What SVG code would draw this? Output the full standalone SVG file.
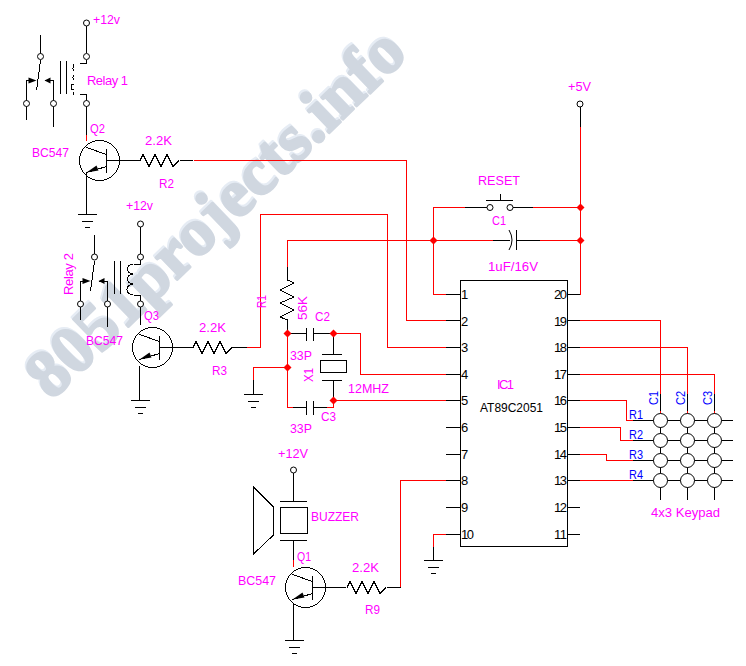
<svg xmlns="http://www.w3.org/2000/svg" width="746" height="666" viewBox="0 0 746 666">
<defs>
<style>
text{font-family:"Liberation Sans",Arial,sans-serif;font-size:13px;fill:#ff00ff}
.k{fill:#000}.b{fill:#0000ff}
.w{fill:none;stroke:#000;stroke-width:1;shape-rendering:crispEdges}
.r{fill:none;stroke:#ff0000;stroke-width:1;shape-rendering:crispEdges}
.o{fill:#fff;stroke:#000;stroke-width:1}
.d{fill:#ff0000;stroke:none}
.a{fill:#000;stroke:none}
.wm{font-family:"Liberation Serif",serif;font-weight:bold;font-size:67px;stroke-width:2.500;stroke-linejoin:round}
</style>
<g id="gnd"><path class="w" d="M-9 0H10M-5 7H6M-2 13H3"/></g>
<g id="term"><circle class="o" cx="0" cy="0" r="3"/></g>
<g id="npn"><circle class="w" cx="0" cy="0" r="20"/><path class="w" d="M7-12V12M7 -6L-13-13M7 6L-13 12"/><path class="a" d="M-13 12L-3 5L-1 10Z"/></g>
<path id="zz" class="w" d="M0 0L3-6L9 6L15-6L21 6L27-6L33 6L39 0"/>
<g id="relay"><path class="w" d="M-60 24V63M-33 24V70M-46-22V-3M-60 44V24H-54M-33 44V24H-42M-46 4L-50 34M-20 4V37M-26 4V37"/><path class="a" d="M-58 21V27L-50 24ZM-42 24L-36 21V27Z"/><path class="w" d="M0 3V7H-7M-7 38H0V44"/><use href="#term" x="0" y="0"/><use href="#term" x="0" y="47"/><use href="#term" x="-46" y="0"/><use href="#term" x="-60" y="47"/><use href="#term" x="-33" y="47"/></g>
</defs>
<rect width="746" height="666" fill="#fff"/>
<g id="watermark"><text class="wm" style="fill:#e6ecf4;stroke:#e6ecf4" transform="translate(50 399) rotate(-44)" textLength="497">8051projects.info</text><text class="wm" style="fill:#d0d7e0;stroke:#d0d7e0" transform="translate(51.500 401) rotate(-44)" textLength="497">8051projects.info</text></g>
<g id="connectors">
<path class="r" d="M193.500 160.500H406.500V320.500H446M247 347.500H260.500V214.500H387.500V347.500H446M446 294.500H433.500V207.500H465M533 207.500H580.500M580.500 127V294.500M433 240.500H493M540 240.500H580M287.500 267V240.500H433M287.500 333.500V407.500H293M327 333.500H360.500V374.500H446M327 407.500H333.500V400.500H446M287 367.500H253.500V380M446 480.500H400.500V587.500M446 534.500H433.500V547M580 320.500H660.500V394M580 347.500H687.500V394M580 374.500H714.500V394M580 400.500H626.500V420.500H633M580 427.500H620.500V440.500H633M580 454.500H606.500V460.500H633M580 480.500H633M86.500 135V141M293.500 560V567M660.500 411V414M687.500 411V414M714.500 411V414"/>
<path class="w" d="M287.500 267V280M287.500 320V333M287.500 333.500H293M327 333.500H333.500M333.500 333V354M333.500 380V400M253.500 380V394M433.500 547V560M400.500 587.500H387M180 160.500H193M106 160.500H140M232 347.500H247M159 347.500H193M312 587.500H346M86.500 106V135M86.500 172V214M140 307V325M139.500 366V400M293.500 473V501M293.500 540V560M293.500 603V640M660.500 394V411M687.500 394V411M714.500 394V411"/>
</g>
<g id="relay1"><path class="w" d="M86.500 26V53"/><use href="#term" x="86.500" y="23"/><use href="#relay" x="86.500" y="56.500"/><path class="w" d="M74 66A2.500 3 0 0 0 74 71M74 75A2.500 3 0 0 0 74 80M74 84A3 3 0 0 0 74 90M73 64V68M73 92V95"/></g>
<g id="relay2"><path class="w" d="M140.500 227V254"/><use href="#term" x="140.500" y="224"/><use href="#relay" x="140.500" y="257"/><path class="w" d="M133 264A5.500 5 0 0 0 133 274A5.500 5 0 0 0 133 284A5.500 5 0 0 0 133 295"/></g>
<g id="q2"><use href="#npn" x="99.500" y="160.500"/><use href="#gnd" x="87" y="214.500"/></g>
<g id="r2"><use href="#zz" x="140" y="160.500"/></g>
<g id="q3"><use href="#npn" x="152.500" y="347.500"/><use href="#gnd" x="140" y="400.500"/></g>
<g id="r3"><use href="#zz" x="193" y="347.500"/></g>
<g id="q1"><use href="#npn" x="305.500" y="587.500"/><use href="#gnd" x="294" y="640.500"/></g>
<g id="r9"><use href="#zz" x="347" y="587.500"/></g>
<g id="r1"><path class="w" d="M287.500 280L294 283L280 290L294 297L280 303L294 310L280 317L287.500 320"/></g>
<g id="c2"><path class="w" d="M293 333.500H306.500M306.500 328V341M313.500 328V341M313.500 333.500H327"/></g>
<g id="c3"><path class="w" d="M293 407.500H306.500M306.500 401V415M313.500 401V415M313.500 407.500H327"/></g>
<g id="x1"><path class="w" d="M322 354.500H342M322 380.500H342"/><rect class="w" x="320.500" y="360.500" width="26" height="12"/></g>
<g id="g3"><use href="#gnd" x="253" y="394.500"/></g>
<g id="g10"><use href="#gnd" x="433" y="560.500"/></g>
<g id="reset"><path class="w" d="M465 207.500H487M513 207.500H533M486 200.500H513M500.500 194V200"/><use href="#term" x="490" y="207.500"/><use href="#term" x="510" y="207.500"/></g>
<g id="c1"><path class="w" d="M493 240.500H510M516.500 240.500H540M516.500 230V250"/><path d="M509 230Q515 240 509 250" fill="none" stroke="#000"/></g>
<g id="vcc"><use href="#term" x="580" y="104"/><path class="w" d="M580.500 107V127"/></g>
<g id="buzzer"><use href="#term" x="293.500" y="470"/><path class="w" d="M280 501.500H307M280 540.500H307"/><rect class="w" x="280.500" y="507.500" width="27" height="26"/><path class="w" d="M253.500 487L273.500 507V535L253.500 554Z"/></g>
<g id="ic1"><rect class="w" x="460.500" y="280.500" width="107" height="266"/>
<path class="w" d="M446 294.500H460M446 320.500H460M446 347.500H460M446 374.500H460M446 400.500H460M446 427.500H460M446 454.500H460M446 480.500H460M446 507.500H460M446 534.500H460M567 294.500H580M567 320.500H580M567 347.500H580M567 374.500H580M567 400.500H580M567 427.500H580M567 454.500H580M567 480.500H580M567 507.500H580M567 534.500H580"/>
<text class="k" x="461" y="299">1</text><text class="k" x="461" y="326">2</text><text class="k" x="461" y="352">3</text><text class="k" x="461" y="379">4</text><text class="k" x="461" y="405">5</text><text class="k" x="461" y="432">6</text><text class="k" x="461" y="459">7</text><text class="k" x="461" y="485">8</text><text class="k" x="461" y="512">9</text><text class="k" x="461" y="539" textLength="13">10</text>
<g><text class="k" x="554" y="299" textLength="13">20</text><text class="k" x="554" y="326" textLength="13">19</text><text class="k" x="554" y="352" textLength="13">18</text><text class="k" x="554" y="379" textLength="13">17</text><text class="k" x="554" y="405" textLength="13">16</text><text class="k" x="554" y="432" textLength="13">15</text><text class="k" x="554" y="459" textLength="13">14</text><text class="k" x="554" y="485" textLength="13">13</text><text class="k" x="554" y="512" textLength="13">12</text><text class="k" x="554" y="539" textLength="13">11</text></g>
<text x="497" y="389" textLength="17">IC1</text><text class="k" x="480" y="412" textLength="63" lengthAdjust="spacingAndGlyphs">AT89C2051</text></g>
<g id="keypad"><path class="w" d="M633 420.500H733M633 440.500H733M633 460.500H733M633 480.500H733M660.500 414V500M687.500 414V500M714.500 414V500"/>
<g id="keys"><circle class="o" cx="660.500" cy="420.500" r="7"/><circle class="o" cx="687.500" cy="420.500" r="7"/><circle class="o" cx="714.500" cy="420.500" r="7"/><circle class="o" cx="660.500" cy="440.500" r="7"/><circle class="o" cx="687.500" cy="440.500" r="7"/><circle class="o" cx="714.500" cy="440.500" r="7"/><circle class="o" cx="660.500" cy="460.500" r="7"/><circle class="o" cx="687.500" cy="460.500" r="7"/><circle class="o" cx="714.500" cy="460.500" r="7"/><circle class="o" cx="660.500" cy="480.500" r="7"/><circle class="o" cx="687.500" cy="480.500" r="7"/><circle class="o" cx="714.500" cy="480.500" r="7"/></g>
<text class="b" x="629" y="419" textLength="14" lengthAdjust="spacingAndGlyphs">R1</text><text class="b" x="629" y="439" textLength="14" lengthAdjust="spacingAndGlyphs">R2</text><text class="b" x="629" y="459" textLength="14" lengthAdjust="spacingAndGlyphs">R3</text><text class="b" x="629" y="479" textLength="14" lengthAdjust="spacingAndGlyphs">R4</text>
<text class="b" transform="translate(658 405) rotate(-90)" textLength="14" lengthAdjust="spacingAndGlyphs">C1</text><text class="b" transform="translate(685 405) rotate(-90)" textLength="14" lengthAdjust="spacingAndGlyphs">C2</text><text class="b" transform="translate(712 405) rotate(-90)" textLength="14" lengthAdjust="spacingAndGlyphs">C3</text>
<text x="651" y="517" textLength="69" lengthAdjust="spacingAndGlyphs">4x3 Keypad</text></g>
<g id="dots"><path class="d" d="M287.500 329.500L291.500 333.500L287.500 337.500L283.500 333.500ZM333.500 329.500L337.500 333.500L333.500 337.500L329.500 333.500ZM287.500 363.500L291.500 367.500L287.500 371.500L283.500 367.500ZM333.500 396.500L337.500 400.500L333.500 404.500L329.500 400.500ZM433.500 236.500L437.500 240.500L433.500 244.500L429.500 240.500ZM580.500 203.500L584.500 207.500L580.500 211.500L576.500 207.500ZM580.500 236.500L584.500 240.500L580.500 244.500L576.500 240.500Z"/></g>
<g id="labels">
<text x="93" y="24" textLength="27" lengthAdjust="spacingAndGlyphs">+12v</text><text x="87" y="85" textLength="41">Relay 1</text><text x="90" y="133" textLength="15" lengthAdjust="spacingAndGlyphs">Q2</text><text x="32" y="157" textLength="37" lengthAdjust="spacingAndGlyphs">BC547</text><text x="145" y="145" textLength="27" lengthAdjust="spacingAndGlyphs">2.2K</text><text x="159" y="188" textLength="15" lengthAdjust="spacingAndGlyphs">R2</text>
<text x="126" y="210" textLength="27" lengthAdjust="spacingAndGlyphs">+12v</text><text transform="translate(73 295) rotate(-90)" textLength="42">Relay 2</text><text x="144" y="320" textLength="15" lengthAdjust="spacingAndGlyphs">Q3</text><text x="86" y="345" textLength="37" lengthAdjust="spacingAndGlyphs">BC547</text><text x="199" y="332" textLength="27" lengthAdjust="spacingAndGlyphs">2.2K</text><text x="212" y="375" textLength="15" lengthAdjust="spacingAndGlyphs">R3</text>
<text transform="translate(266 308) rotate(-90)" textLength="13" lengthAdjust="spacingAndGlyphs">R1</text><text transform="translate(307 320) rotate(-90)" textLength="24" lengthAdjust="spacingAndGlyphs">56K</text><text x="315" y="321" textLength="15" lengthAdjust="spacingAndGlyphs">C2</text><text x="290" y="360" textLength="22" lengthAdjust="spacingAndGlyphs">33P</text><text transform="translate(313 382) rotate(-90)" textLength="14" lengthAdjust="spacingAndGlyphs">X1</text><text x="348" y="393" textLength="41" lengthAdjust="spacingAndGlyphs">12MHZ</text><text x="321" y="421" textLength="15" lengthAdjust="spacingAndGlyphs">C3</text><text x="290" y="433" textLength="22" lengthAdjust="spacingAndGlyphs">33P</text>
<text x="478" y="185" textLength="42" lengthAdjust="spacingAndGlyphs">RESET</text><text x="492" y="225" textLength="14" lengthAdjust="spacingAndGlyphs">C1</text><text x="488" y="271" textLength="50" lengthAdjust="spacingAndGlyphs">1uF/16V</text><text x="568" y="91" textLength="23" lengthAdjust="spacingAndGlyphs">+5V</text>
<text x="278" y="458" textLength="30" lengthAdjust="spacingAndGlyphs">+12V</text><text x="311" y="521" textLength="48" lengthAdjust="spacingAndGlyphs">BUZZER</text><text x="297" y="561" textLength="14" lengthAdjust="spacingAndGlyphs">Q1</text><text x="238" y="585" textLength="38" lengthAdjust="spacingAndGlyphs">BC547</text><text x="352" y="572" textLength="27" lengthAdjust="spacingAndGlyphs">2.2K</text><text x="365" y="614" textLength="15" lengthAdjust="spacingAndGlyphs">R9</text>
</g>
</svg>
